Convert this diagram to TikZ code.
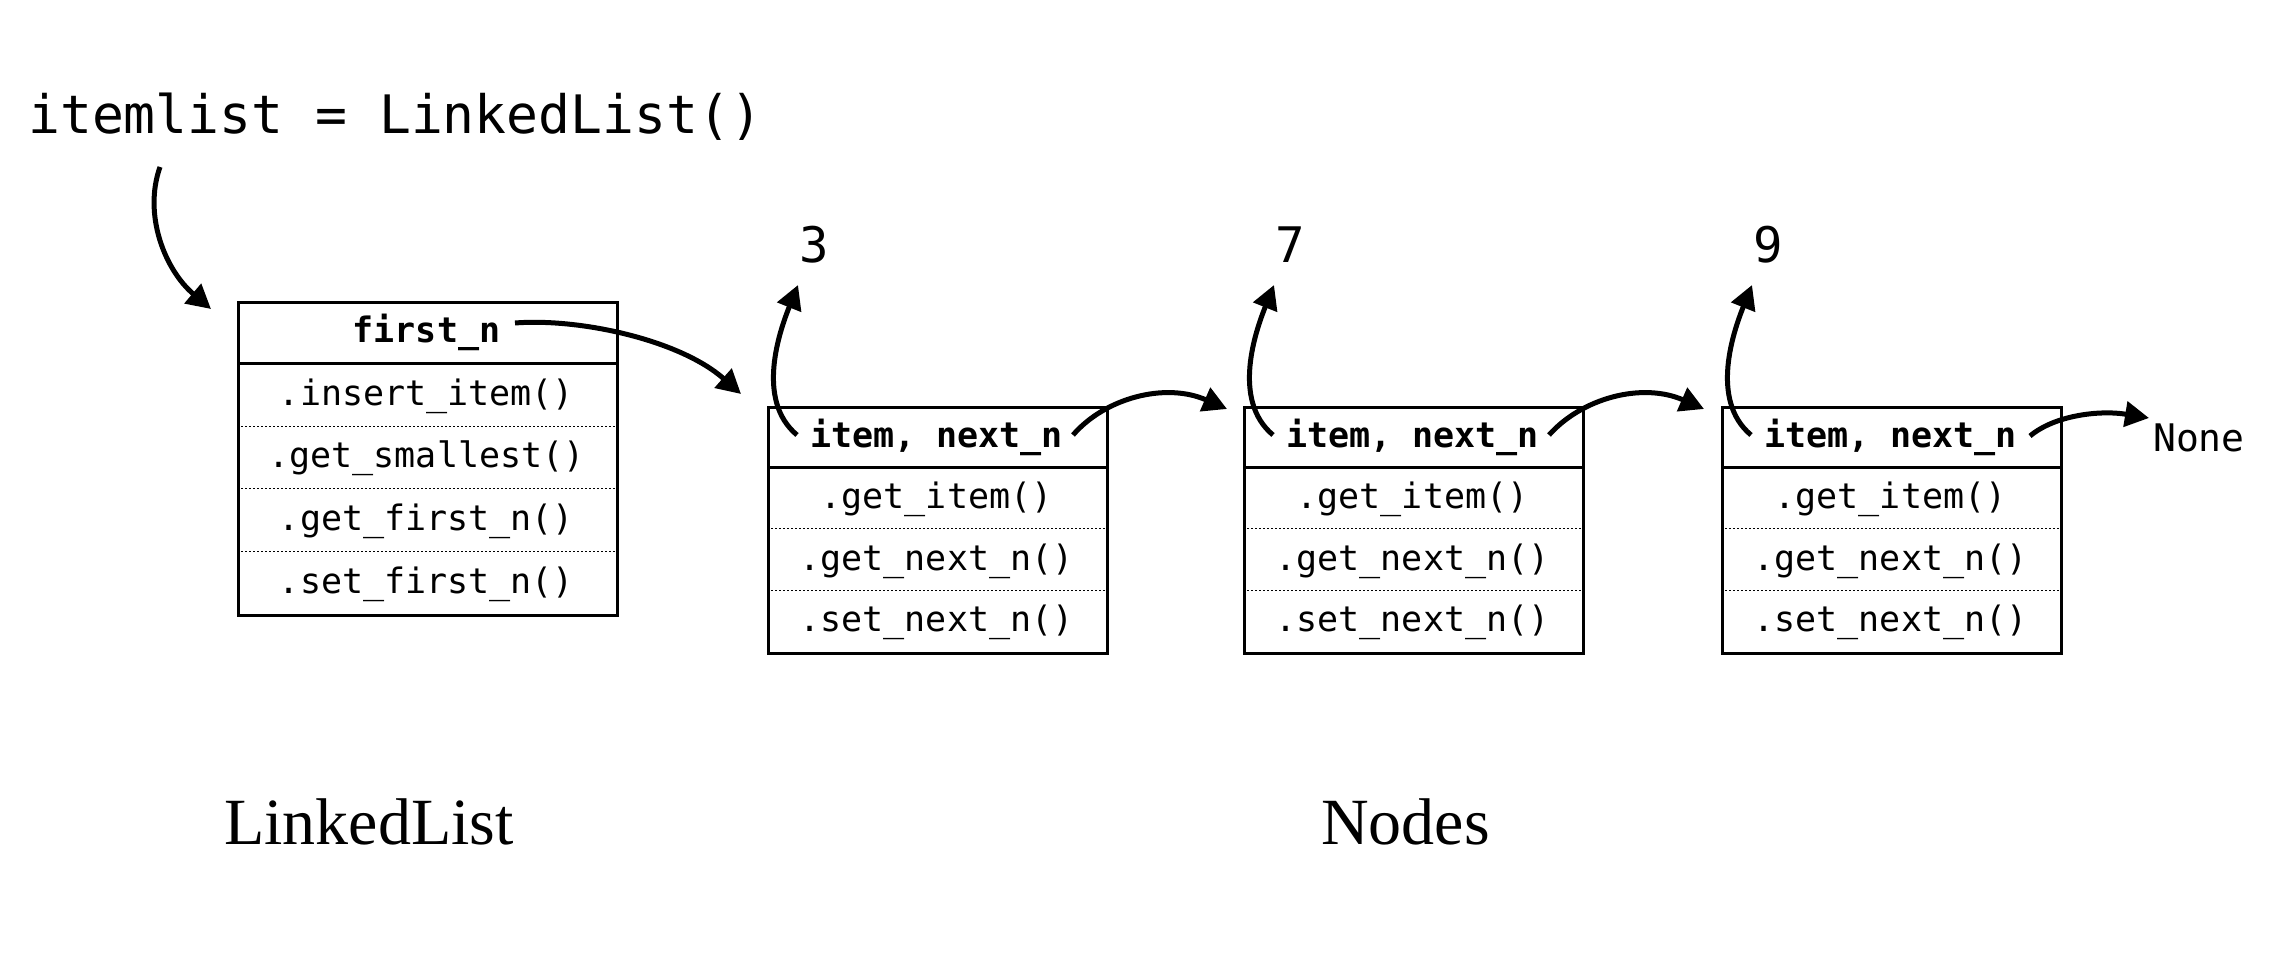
\documentclass[tikz,border=0pt]{standalone}
\usepackage{fontspec}
\setmonofont{DejaVu Sans Mono}
\newfontfamily\labelfont{Liberation Serif}
\usetikzlibrary{arrows.meta,calc}
\begin{document}
\begin{tikzpicture}[x=1bp,y=1bp,
 frame/.style={draw, line width=3.3bp, inner sep=0pt, rectangle},
 sepline/.style={line width=3.1bp},
 dotline/.style={line width=1bp, dash pattern=on 2bp off 2bp},
 rowtext/.style={font=\ttfamily\fontsize{35bp}{40bp}\selectfont, inner sep=0pt, anchor=base},
 hdrtext/.style={font=\ttfamily\bfseries\fontsize{35bp}{40bp}\selectfont, inner sep=0pt, anchor=base},
 digit/.style={font=\ttfamily\fontsize{49bp}{55bp}\selectfont, inner sep=0pt, anchor=base},
 caption/.style={font=\labelfont\fontsize{66bp}{72bp}\selectfont, inner sep=0pt, anchor=base west},
 arr/.style={line width=5bp, -{Triangle[length=24bp,width=25bp]}},
]
\useasboundingbox (0,0) rectangle (2294,960);

% title
\node[font=\ttfamily\fontsize{53bp}{60bp}\selectfont, inner sep=0pt, anchor=base west] (title) at (28,826) {itemlist = LinkedList()};

% LinkedList box
\node[frame, minimum width=379bp, minimum height=313bp, anchor=north west] (ll) at (237,659) {};
\draw[sepline] (237,596.4) -- (616,596.4);
\draw[dotline] (237,533.8) -- (616,533.8);
\draw[dotline] (237,471.2) -- (616,471.2);
\draw[dotline] (237,408.6) -- (616,408.6);
\node[hdrtext] (llh) at (426.5,617.2) {first\_n};
\node[rowtext] (ll1) at (426.5,554.6) {.insert\_item()};
\node[rowtext] (ll2) at (426.5,492.0) {.get\_smallest()};
\node[rowtext] (ll3) at (426.5,429.4) {.get\_first\_n()};
\node[rowtext] (ll4) at (426.5,366.8) {.set\_first\_n()};

% Node boxes
\foreach \i/\L/\d in {1/767/3,2/1243/7,3/1721/9}{
  \node[frame, minimum width=339bp, minimum height=246bp, anchor=north west] (n\i) at (\L,554) {};
  \draw[sepline] (\L,492.5) -- (\L+339,492.5);
  \draw[dotline] (\L,431) -- (\L+339,431);
  \draw[dotline] (\L,369.5) -- (\L+339,369.5);
  \node[hdrtext] (n\i h) at (\L+169.5,512.75) {item, next\_n};
  \node[rowtext] (n\i a) at (\L+169.5,451.25) {.get\_item()};
  \node[rowtext] (n\i b) at (\L+169.5,389.75) {.get\_next\_n()};
  \node[rowtext] (n\i c) at (\L+169.5,328.25) {.set\_next\_n()};
  \node[digit] (d\i) at (\L+47,697) {\d};
  \coordinate (is\i) at (\L+30,525);
  \coordinate (ie\i) at (\L+31,675);
  \draw[arr] (is\i) .. controls (\L-12,560) and (\L+13,630) .. (ie\i);
  \coordinate (ns\i) at (\L+306,525);
}

% None
\node[font=\ttfamily\fontsize{38bp}{42bp}\selectfont, inner sep=0pt, anchor=base west] (none) at (2153,508) {None};

% captions
\node[caption] (cap1) at (224,116) {LinkedList};
\node[caption] (cap2) at (1321,116) {Nodes};

% connectors
\coordinate (t0) at (160,793);
\coordinate (llin) at (211,651);
\draw[arr] (t0) .. controls (143,745) and (165,690) .. (llin);

\coordinate (f0) at (515,637);
\coordinate (n1in) at (741,566);
\draw[arr] (f0) .. controls (580,642) and (680,620) .. (n1in);

\coordinate (n2in) at (1227,551);
\coordinate (n3in) at (1704,551);
\coordinate (nonein) at (2149,542);
\draw[arr] (ns1) .. controls (1105,562) and (1165,578) .. (n2in);
\draw[arr] (ns2) .. controls (1582,562) and (1642,578) .. (n3in);
\draw[arr] (2030,524) .. controls (2055,545) and (2100,550) .. (nonein);
\end{tikzpicture}
\end{document}
